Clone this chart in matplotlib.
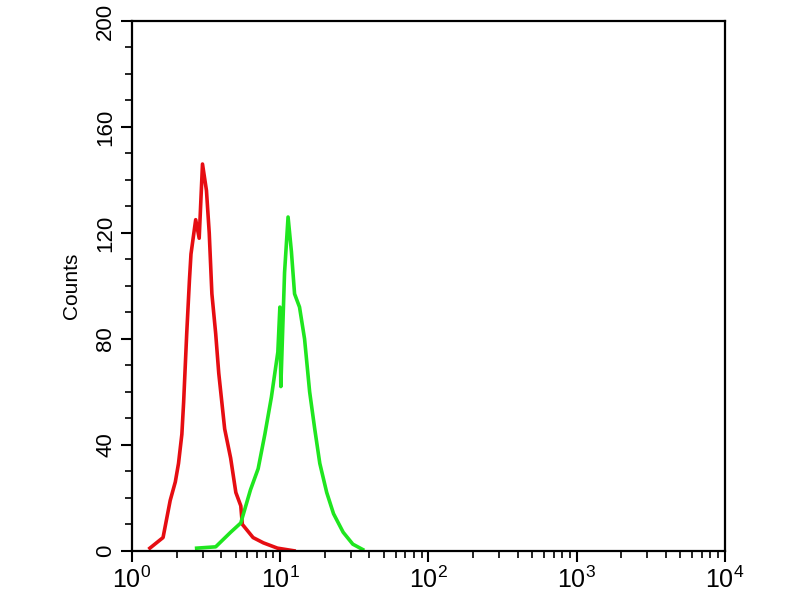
import matplotlib
matplotlib.use('Agg')
import matplotlib.pyplot as plt
from matplotlib.ticker import LogLocator, MultipleLocator

plt.rcParams['font.family'] = ['Liberation Sans', 'DejaVu Sans']

# Isotype control (red) histogram
red_x = [1.32, 1.62, 1.81, 1.96, 2.06, 2.17, 2.23, 2.28, 2.34, 2.44, 2.50, 2.69,
         2.84, 2.99, 3.18, 3.32, 3.46, 3.67, 3.85, 4.22, 4.63, 5.02, 5.42, 5.55,
         6.56, 7.70, 9.58, 12.4]
red_y = [1, 5, 19, 26, 33, 44, 56, 68, 82, 102, 112, 125,
         118, 146, 136, 120, 97, 82, 67, 46, 35, 22, 17, 10,
         5, 3, 1, 0]

# Antibody stained sample (green) histogram
green_x = [2.73, 3.67, 4.63, 5.42, 6.30, 7.10, 7.88, 8.72, 9.64, 9.95, 10.1, 10.7,
           11.3, 11.9, 12.5, 13.5, 14.6, 15.8, 17.1, 18.5, 20.6, 22.9, 26.6, 30.9, 36.0]
green_y = [1, 1.5, 7, 10.5, 23, 31, 44, 58, 75, 92, 62, 105,
           126, 113, 97, 92, 80, 60, 46, 33, 22, 14, 7, 2.5, 0.5]

x_min, x_max = 1, 1e4
y_max = 200
y_ticks = [0, 40, 80, 120, 160, 200]

fig = plt.figure(figsize=(8, 6), dpi=100)
ax = fig.add_axes([0.165, 0.082, 0.741, 0.883])

ax.plot(red_x, red_y, color='#e60d12', lw=2.6)
ax.plot(green_x, green_y, color='#1fe61f', lw=2.6)

ax.set_xscale('log')
ax.set_xlim(x_min, x_max)
ax.set_ylim(0, y_max)
ax.set_yticks(y_ticks)
ax.yaxis.set_minor_locator(MultipleLocator(10))
ax.xaxis.set_major_locator(LogLocator(base=10))
ax.xaxis.set_minor_locator(LogLocator(base=10, subs=range(2, 10)))

for s in ax.spines.values():
    s.set_linewidth(1.6)
ax.tick_params(which='major', direction='out', length=8, width=1.5, labelsize=18,
               top=False, right=False)
ax.tick_params(which='minor', direction='out', length=5, width=1.2,
               top=False, right=False)
ax.tick_params(axis='y', labelsize=16)
for lbl in ax.get_yticklabels():
    lbl.set_rotation(90)
    lbl.set_va('center')

ax.set_ylabel('Counts', fontsize=15, labelpad=10)

plt.savefig('out.png', dpi=100)
